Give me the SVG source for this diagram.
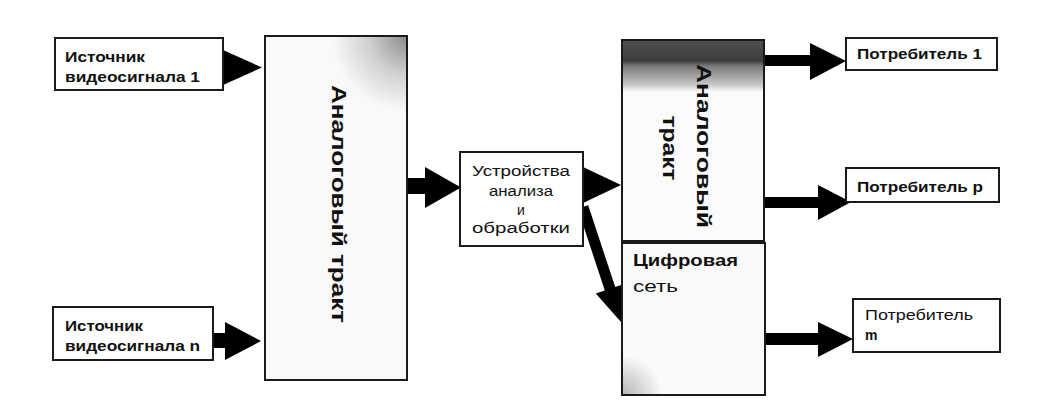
<svg xmlns="http://www.w3.org/2000/svg" width="1056" height="411" viewBox="0 0 1056 411">
<style>
.box{fill:#fff;stroke:#1a1a1a;stroke-width:2}
.big{stroke:#1a1a1a;stroke-width:2}
.t{font-family:"Liberation Sans",Arial,sans-serif;fill:#111}
.b{font-weight:bold}
.arr{fill:#000}
</style>
<defs>
<radialGradient id="gLeft" gradientUnits="userSpaceOnUse" cx="407" cy="36" r="75">
<stop offset="0" stop-color="#8a8a8a"/>
<stop offset="0.5" stop-color="#cfcfcf"/>
<stop offset="1" stop-color="#f9f9f9"/>
</radialGradient>
<linearGradient id="gRight" gradientUnits="userSpaceOnUse" x1="0" y1="40" x2="0" y2="92">
<stop offset="0" stop-color="#505050"/>
<stop offset="0.4" stop-color="#3c3c3c"/>
<stop offset="0.5" stop-color="#7a7a7a"/>
<stop offset="0.85" stop-color="#c4c4c4"/>
<stop offset="1" stop-color="#fbfbfb"/>
</linearGradient>
<radialGradient id="gDig" gradientUnits="userSpaceOnUse" cx="622" cy="395" r="40">
<stop offset="0" stop-color="#b5b5b5"/>
<stop offset="1" stop-color="#fafafa"/>
</radialGradient>
</defs>

<g id="connectors">
<polygon class="arr" points="223,50 262,67.5 223,85"/>
<polygon class="arr" points="213,333 225,333 225,322 261,341 225,360 225,348 213,348"/>
<polygon class="arr" points="407,178 425,178 425,167 461,187.5 425,208 425,194 407,194"/>
<polygon class="arr" points="583,167 621,185 583,203"/>
<polygon class="arr" points="577.8,208.7 588.2,205.3 615.2,287.1 624.3,284.1 621,322 595.8,293.5 604.8,290.5"/>
<polygon class="arr" points="764,55 810,55 810,43 846,61 810,80 810,66 764,66"/>
<polygon class="arr" points="764,197 818,197 818,185 851,202 818,220 818,208 764,208"/>
<polygon class="arr" points="765,333 818,333 818,322 853,339 818,357 818,345 765,345"/>
</g>

<g id="src1">
<rect class="box" x="55" y="38" width="168" height="52"/>
<text class="t b" x="65" y="62" font-size="15" textLength="80" lengthAdjust="spacingAndGlyphs">Источник</text>
<text class="t b" x="65" y="82" font-size="15" textLength="135" lengthAdjust="spacingAndGlyphs">видеосигнала 1</text>
</g>

<g id="srcN">
<rect class="box" x="53" y="307" width="160" height="53"/>
<text class="t b" x="65" y="331" font-size="15" textLength="78" lengthAdjust="spacingAndGlyphs">Источник</text>
<text class="t b" x="65" y="351" font-size="15" textLength="135" lengthAdjust="spacingAndGlyphs">видеосигнала n</text>
</g>

<g id="analog1">
<rect class="big" x="265" y="36" width="142" height="344" fill="#f9f9f9"/>
<rect x="266" y="37" width="140" height="90" fill="url(#gLeft)"/>
<text class="t b" transform="translate(332,204) rotate(90)" x="0" y="0" font-size="20" text-anchor="middle" textLength="238" lengthAdjust="spacingAndGlyphs">Аналоговый тракт</text>
</g>

<g id="proc">
<rect class="box" x="460" y="152" width="123" height="94"/>
<text class="t" x="521" y="176" font-size="14" text-anchor="middle" textLength="98" lengthAdjust="spacingAndGlyphs">Устройства</text>
<text class="t" x="521" y="196" font-size="14" text-anchor="middle" textLength="64" lengthAdjust="spacingAndGlyphs">анализа</text>
<text class="t" x="521" y="215" font-size="14" text-anchor="middle">и</text>
<text class="t" x="521" y="233" font-size="14" text-anchor="middle" textLength="98" lengthAdjust="spacingAndGlyphs">обработки</text>
</g>

<g id="analog2">
<rect class="big" x="622" y="40" width="142" height="201" fill="#fbfbfb"/>
<rect x="623" y="41" width="140" height="52" fill="url(#gRight)"/>
<text class="t b" transform="translate(697,146) rotate(90)" x="0" y="0" font-size="20" text-anchor="middle" textLength="164" lengthAdjust="spacingAndGlyphs">Аналоговый</text>
<text class="t b" transform="translate(663,148) rotate(90)" x="0" y="0" font-size="20" text-anchor="middle" textLength="65" lengthAdjust="spacingAndGlyphs">тракт</text>
</g>

<g id="digital">
<rect class="big" x="622" y="243" width="143" height="152" fill="#fafafa"/>
<rect x="623" y="355" width="40" height="39" fill="url(#gDig)"/>
<text class="t b" x="633" y="266" font-size="16" textLength="105" lengthAdjust="spacingAndGlyphs">Цифровая</text>
<text class="t" x="633" y="292" font-size="16" textLength="45" lengthAdjust="spacingAndGlyphs">сеть</text>
</g>

<g id="cons1">
<rect class="box" x="846" y="38" width="151" height="32"/>
<text class="t b" x="857" y="59" font-size="14" textLength="125" lengthAdjust="spacingAndGlyphs">Потребитель 1</text>
</g>

<g id="consP">
<rect class="box" x="846" y="168" width="153" height="34"/>
<text class="t b" x="857" y="192" font-size="14" textLength="126" lengthAdjust="spacingAndGlyphs">Потребитель p</text>
</g>

<g id="consM">
<rect class="box" x="853" y="299" width="147" height="53"/>
<text class="t" x="865" y="320" font-size="14" textLength="108" lengthAdjust="spacingAndGlyphs">Потребитель</text>
<text class="t b" x="865" y="340" font-size="14">m</text>
</g>
</svg>
